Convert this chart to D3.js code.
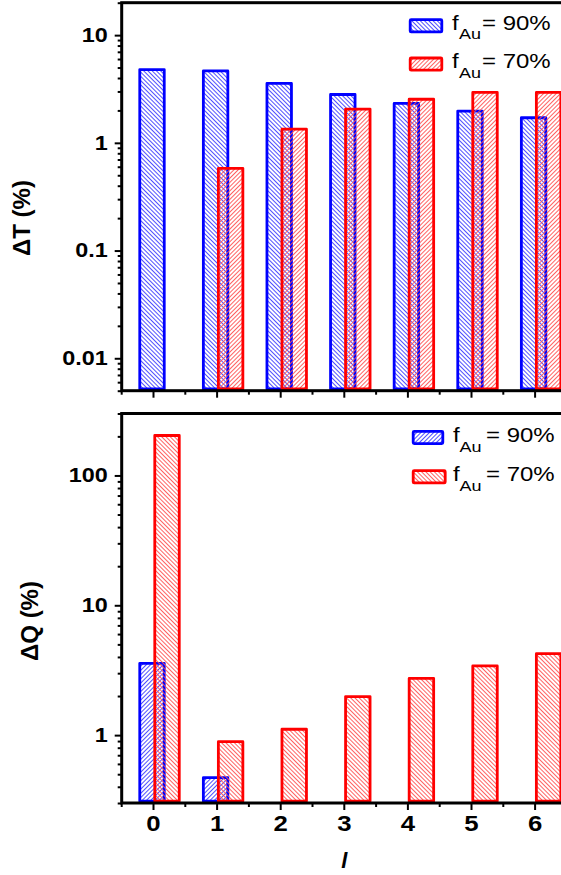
<!DOCTYPE html>
<html>
<head>
<meta charset="utf-8">
<script src="https://cdn.jsdelivr.net/npm/d3@7/dist/d3.min.js"></script>
<style>
  body { margin: 0; background: #fff; }
  svg { display: block; font-family: "Liberation Sans", Arial, sans-serif; }
</style>
</head>
<body>
<script>
    // values
    const categories = ["0", "1", "2", "3", "4", "5", "6"];
    const seriesNames = ["90%", "70%"];

    const dT90 = [4.79, 4.65, 3.56, 2.81, 2.32, 1.97, 1.71];
    const dT70 = [null, 0.58, 1.34, 2.06, 2.54, 2.94, 2.94];

    const dQ90 = [3.57, 0.47, 0.1, 0.1, 0.1, 0.1, 0.1];     // 2..6 sit below the axis
    const dQ70 = [203, 0.89, 1.11, 1.98, 2.74, 3.41, 4.24];

    const dTTicks = [0.01, 0.1, 1, 10];
    const dTTickLabels = ["0.01", "0.1", "1", "10"];
    const dQTicks = [1, 10, 100];
    const dQTickLabels = ["1", "10", "100"];

    const xTitle = "l";
    const dTTitle = "\u0394T (%)";
    const dQTitle = "\u0394Q (%)";

    const W = 561, H = 875;
    const blue = "#0000ff", red = "#ff0000";
    const left = 121.7, right = 566.9;   // right frame falls just outside the window

    const svg = d3.select("body").append("svg")
        .attr("width", W)
        .attr("height", H);

    svg.append("rect").attr("width", W).attr("height", H).attr("fill", "#fff");

    const defs = svg.append("defs");

    // diagonal hatch: thin lines rotated one way or the other
    function hatch(id, color, angle) {
        const p = defs.append("pattern")
            .attr("id", id)
            .attr("patternUnits", "userSpaceOnUse")
            .attr("width", 3)
            .attr("height", 3)
            .attr("patternTransform", "rotate(" + angle + ")");
        p.append("rect")
            .attr("x", 0)
            .attr("y", 0)
            .attr("width", 0.9)
            .attr("height", 3)
            .attr("fill", color);
    }
    hatch("blueBack", "#3c3cff", -45);
    hatch("blueFwd", "#3c3cff", 45);
    hatch("redBack", "#ff5050", -45);
    hatch("redFwd", "#ff5050", 45);

    // text in the figure is wider than plain Arial
    function stretch(sel, sx) {
        sel.each(function () {
            const t = d3.select(this);
            const x = +t.attr("x") || 0;
            t.attr("x", x / sx).attr("transform", "scale(" + sx + ",1)");
        });
    }

    const x = d3.scaleBand()
        .domain(categories)
        .range([left, right]);
    const step = x.step();

    function panel(o) {
        const y = d3.scaleLog()
            .domain(o.domain)
            .range([o.bottom, o.top])
            .clamp(true);

        const g = svg.append("g");
        const base = o.bottom - 1.8;

        // bars, blue first then red on top
        o.series.forEach(function (s) {
            const data = categories
                .map(function (c, i) { return {c: c, v: s.values[i]}; })
                .filter(function (d) { return d.v != null; });

            g.selectAll(null)
                .data(data)
                .join("rect")
                .attr("x", function (d) { return x(d.c) + step / 2 + s.offset * step; })
                .attr("width", 0.385 * step)
                .attr("y", function (d) { return Math.min(y(d.v), base); })
                .attr("height", function (d) { return Math.max(0, base - y(d.v)); })
                .attr("fill", "url(#" + s.hatch + ")")
                .attr("stroke", s.color)
                .attr("stroke-width", 2.8)
                .attr("stroke-linejoin", "round");
        });

        // left axis
        const isMajor = function (v) {
            return o.ticks.findIndex(function (t) { return Math.abs(t - v) / t < 1e-6; });
        };
        const yAxis = d3.axisLeft(y)
            .tickValues(y.ticks())
            .tickFormat(function (v) {
                const k = isMajor(v);
                return k >= 0 ? o.labels[k] : "";
            })
            .tickSize(7)
            .tickPadding(7)
            .tickSizeOuter(0);

        const ag = g.append("g")
            .attr("transform", "translate(" + left + ",0)")
            .call(yAxis);
        ag.select(".domain").remove();
        ag.selectAll(".tick")
            .filter(function (v) { return isMajor(v) < 0; })
            .select("line")
            .attr("x2", -4);
        ag.selectAll("line").attr("stroke", "#000").attr("stroke-width", 2);
        ag.selectAll("text")
            .attr("font-family", "'Liberation Sans', Arial, sans-serif")
            .attr("font-size", 19.5)
            .attr("font-weight", "bold")
            .attr("fill", "#000")
            .call(stretch, 1.2);

        // bottom axis
        const xAxis = d3.axisBottom(x)
            .tickSize(7)
            .tickPadding(5)
            .tickSizeOuter(0)
            .tickFormat(o.showX ? function (d) { return d; } : function () { return ""; });

        const bg = g.append("g")
            .attr("transform", "translate(0," + o.bottom + ")")
            .call(xAxis);
        bg.select(".domain").remove();
        bg.selectAll("line").attr("stroke", "#000").attr("stroke-width", 2);
        bg.selectAll("text")
            .attr("font-family", "'Liberation Sans', Arial, sans-serif")
            .attr("font-size", 23)
            .attr("font-weight", "bold")
            .attr("fill", "#000")
            .call(stretch, 1.12);

        // minor ticks between the categories
        bg.selectAll(".minor")
            .data(categories)
            .join("line")
            .attr("class", "minor")
            .attr("x1", function (d) { return x(d); })
            .attr("x2", function (d) { return x(d); })
            .attr("y1", 0)
            .attr("y2", 4)
            .attr("stroke", "#000")
            .attr("stroke-width", 2);

        // frame
        g.append("rect")
            .attr("x", left)
            .attr("y", o.top)
            .attr("width", right - left)
            .attr("height", o.bottom - o.top)
            .attr("fill", "none")
            .attr("stroke", "#000")
            .attr("stroke-width", 3);

        // y title
        g.append("text")
            .attr("transform", "translate(" + o.titleX + "," + o.titleY + ") rotate(-90)")
            .attr("text-anchor", "middle")
            .attr("font-size", 24)
            .attr("font-weight", "bold")
            .text(o.title);

        // legend: swatch, then f with subscript Au and the value in one text
        const sx = 1.2;
        o.series.forEach(function (s, i) {
            const L = o.legend[i];
            g.append("rect")
                .attr("x", L.sx)
                .attr("y", L.base - 10.3)
                .attr("width", L.sw)
                .attr("height", 12.2)
                .attr("rx", 1)
                .attr("fill", "url(#" + L.hatch + ")")
                .attr("stroke", s.color)
                .attr("stroke-width", 2.8);

            const t = g.append("text")
                .attr("y", L.base)
                .attr("font-size", 20)
                .attr("transform", "scale(" + sx + ",1)");
            t.append("tspan")
                .attr("x", L.fx / sx)
                .text("f");
            t.append("tspan")
                .attr("x", L.subx / sx)
                .attr("dy", L.subdy)
                .attr("font-size", 15)
                .text("Au");
            t.append("tspan")
                .attr("x", L.eqx / sx)
                .attr("dy", -L.subdy)
                .text("= " + seriesNames[i]);
        });
    }

    panel({
        top: 2.7, bottom: 390.7,
        domain: [0.005, 20],
        ticks: dTTicks, labels: dTTickLabels,
        showX: false,
        title: dTTitle, titleX: 30, titleY: 218,
        series: [
            {values: dT90, color: blue, hatch: "blueBack", offset: -0.216},
            {values: dT70, color: red, hatch: "redFwd", offset: 0.02}
        ],
        legend: [
            {base: 30, sx: 410.2, sw: 31.6, hatch: "blueBack", fx: 452, subx: 459, subdy: 9.3, eqx: 482},
            {base: 68.3, sx: 410.2, sw: 31.6, hatch: "redFwd", fx: 452, subx: 459, subdy: 9.3, eqx: 482}
        ]
    });

    panel({
        top: 413.5, bottom: 803,
        domain: [0.3, 300],
        ticks: dQTicks, labels: dQTickLabels,
        showX: true,
        title: dQTitle, titleX: 38.3, titleY: 621,
        series: [
            {values: dQ90, color: blue, hatch: "blueFwd", offset: -0.216},
            {values: dQ70, color: red, hatch: "redBack", offset: 0.02}
        ],
        legend: [
            {base: 441.7, sx: 413.2, sw: 29.6, hatch: "blueFwd", fx: 453, subx: 459.5, subdy: 10, eqx: 486},
            {base: 481, sx: 413.2, sw: 32, hatch: "redBack", fx: 453, subx: 459.5, subdy: 10, eqx: 486}
        ]
    });

    // x title
    svg.append("text")
        .attr("x", (left + right) / 2)
        .attr("y", 868)
        .attr("text-anchor", "middle")
        .attr("font-size", 22)
        .attr("font-weight", "bold")
        .attr("font-style", "italic")
        .text(xTitle);
</script>
</body>
</html>
